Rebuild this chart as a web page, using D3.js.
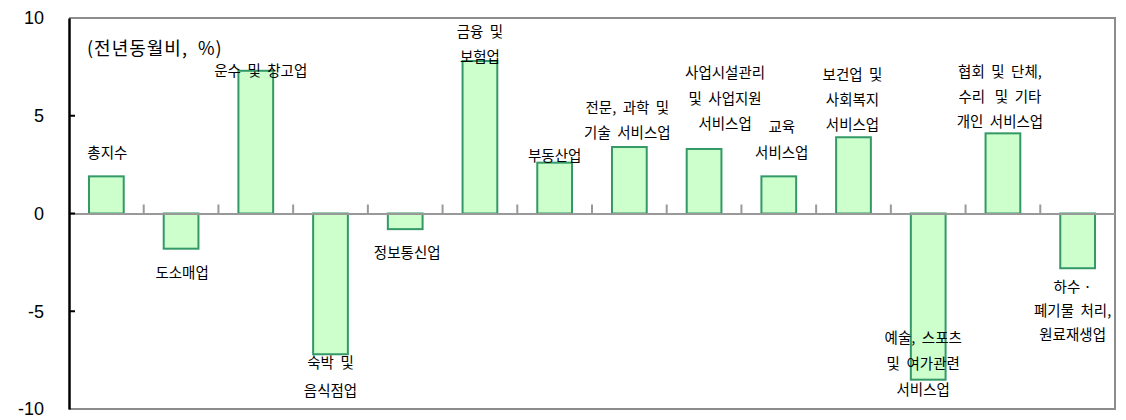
<!DOCTYPE html>
<html><head><meta charset="utf-8">
<script src="https://cdn.jsdelivr.net/npm/d3@7"></script>
<style>
html,body{margin:0;padding:0;background:#fff;}
svg{display:block;}
svg text{white-space:pre;}
</style></head>
<body>
<svg id="chart" width="1126" height="420"></svg>
<script>
// ---- data ----
const categories = [
  ["총지수"],
  ["도소매업"],
  ["운수  및  창고업"],
  ["숙박  및", "음식점업"],
  ["정보통신업"],
  ["금융  및", "보험업"],
  ["부동산업"],
  ["전문,  과학  및", "기술  서비스업"],
  ["사업시설관리", "및  사업지원", "서비스업"],
  ["교육", "서비스업"],
  ["보건업  및", "사회복지", "서비스업"],
  ["예술,  스포츠", "및  여가관련", "서비스업"],
  ["협회  및  단체,", "수리   및  기타", "개인  서비스업"],
  ["하수 ·", "폐기물  처리,", "원료재생업"]
];
const values = [1.9, -1.8, 7.3, -7.2, -0.8, 7.8, 2.6, 3.4, 3.3, 1.9, 3.9, -8.5, 4.1, -2.8];
const yTicks = [10, 5, 0, -5, -10];
const unitLabel = "(전년동월비,  %)";

// ---- layout ----
const labelLayout = [
  {dx: 1, y: 153}, {dx: 1, y: 273}, {dx: 5, y: 71}, {dx: 0, y: 363},
  {dx: 2, y: 253}, {dx: 0, y: 32}, {dx: 0, y: 156}, {dx: -2, y: 108},
  {dx: 21, y: 73}, {dx: 3, y: 127}, {dx: -1, y: 75}, {dx: -5, y: 338},
  {dx: -3, y: 72}, {dx: -5, y: 287}
];
const lineGap = [25,25,25,28,25,25,25,25,25.5,26,25,26,25,24];

const svg = d3.select("#chart");
const m = {left: 69, right: 1115, top: 18, bottom: 409};

const x = d3.scaleBand().domain(d3.range(categories.length)).range([m.left, m.right]).paddingInner(0).paddingOuter(0);
const y = d3.scaleLinear().domain([-10, 10]).range([m.bottom, m.top]);
const bw = x.bandwidth() * 0.465;

svg.append("path")
  .attr("d", `M${m.left},${m.top}H${m.right}V${m.bottom}H${m.left}`)
  .attr("fill", "none").attr("stroke", "#8c8c8c").attr("stroke-width", 2);

svg.append("g").selectAll("rect").data(values).join("rect")
  .attr("x", (d, i) => x(i) + x.bandwidth() / 2 - bw / 2)
  .attr("width", bw)
  .attr("y", d => y(Math.max(0, d)))
  .attr("height", d => Math.abs(y(d) - y(0)))
  .attr("fill", "#ccffcc")
  .attr("stroke", "#339966")
  .attr("stroke-width", 2);

const xAxis = d3.axisTop(x).tickSize(0).tickFormat("");
const gx = svg.append("g").attr("transform", `translate(0,${y(0)})`).call(xAxis);
gx.select(".domain").attr("stroke", "#999").attr("stroke-width", 2);
svg.append("g").selectAll("line").data(d3.range(1, categories.length)).join("line")
  .attr("x1", i => x(i)).attr("x2", i => x(i))
  .attr("y1", y(0)).attr("y2", y(0) - 9)
  .attr("stroke", "#999").attr("stroke-width", 2);

const yAxis = d3.axisLeft(y).tickValues(yTicks).tickSize(0).tickPadding(25).tickFormat(d3.format("d"));
const gy = svg.append("g").attr("transform", `translate(${m.left},0)`).call(yAxis);
gy.select(".domain").attr("stroke", "#000").attr("stroke-width", 2.5);
gy.selectAll("text").attr("font-family", "Liberation Sans, Arial, sans-serif").attr("font-size", 18).attr("fill", "#000")
  .text(d => d < 0 ? "-" + Math.abs(d) : d);
svg.append("g").selectAll("line").data(yTicks.filter(t => t !== 10 && t !== -10)).join("line")
  .attr("x1", m.left).attr("x2", m.left + 6)
  .attr("y1", d => y(d)).attr("y2", d => y(d))
  .attr("stroke", "#000").attr("stroke-width", 2);

svg.append("text").attr("x", 87).attr("y", 49).attr("dy", "0.35em")
  .attr("font-family", "Noto Sans CJK KR, sans-serif").attr("font-size", 18).attr("letter-spacing", 1).attr("fill", "#000")
  .text(unitLabel);

const lg = svg.append("g").attr("font-family", "Noto Sans CJK KR, sans-serif").attr("font-size", 14.5).attr("fill", "#000");
categories.forEach((lines, i) => {
  const cx = x(i) + x.bandwidth() / 2 + labelLayout[i].dx;
  const t = lg.append("text").attr("text-anchor", "middle");
  lines.forEach((ln, j) => {
    t.append("tspan").attr("x", cx).attr("y", labelLayout[i].y + j * lineGap[i]).attr("dy", "0.35em").text(ln);
  });
});
</script>
</body></html>
